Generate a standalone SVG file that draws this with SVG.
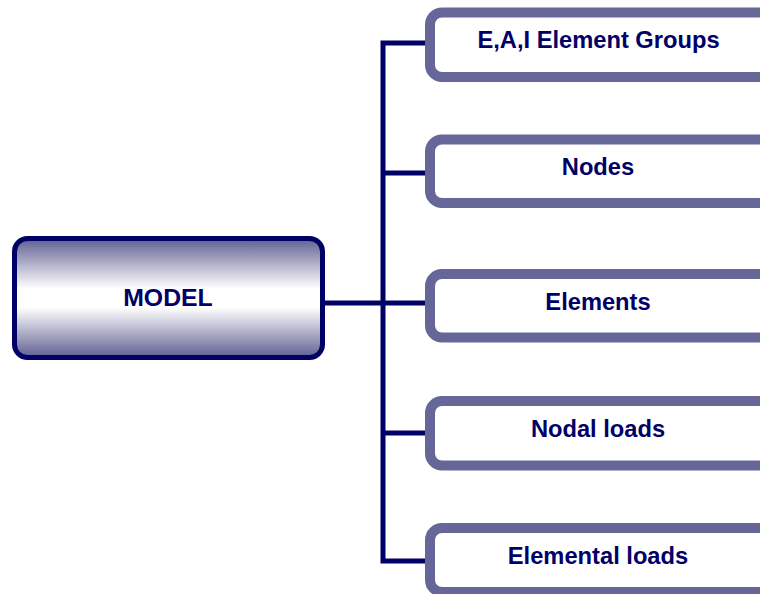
<svg xmlns="http://www.w3.org/2000/svg" width="760" height="594" viewBox="0 0 760 594">
<defs>
<linearGradient id="mg" x1="0" y1="0" x2="0" y2="1">
<stop offset="0" stop-color="#5f5f92"/>
<stop offset="0.42" stop-color="#ffffff"/>
<stop offset="0.58" stop-color="#ffffff"/>
<stop offset="1" stop-color="#5f5f92"/>
</linearGradient>
<style>
.box{fill:#ffffff;stroke:#666699;stroke-width:10}
.lbl{font-family:"Liberation Sans",Arial,sans-serif;font-weight:bold;font-size:23.7px;fill:#000066;text-anchor:middle}
.conn{stroke:#000066;stroke-width:5;fill:none}
</style>
</defs>
<rect width="760" height="594" fill="#ffffff"/>
<g id="connectors">
<line class="conn" x1="325" y1="303" x2="383" y2="303"/>
<path class="conn" d="M425 43 H383 V561 H425"/>
<line class="conn" x1="383" y1="173" x2="425" y2="173"/>
<line class="conn" x1="383" y1="303" x2="425" y2="303"/>
<line class="conn" x1="383" y1="433" x2="425" y2="433"/>
</g>
<g id="model">
<rect x="14.5" y="238.5" width="308" height="119" rx="13" fill="url(#mg)" stroke="#000066" stroke-width="5"/>
<text class="lbl" x="168" y="306" style="font-size:24.8px">MODEL</text>
</g>
<g id="eai">
<rect class="box" x="430" y="12.5" width="360" height="64.5" rx="12"/>
<text class="lbl" x="598.5" y="48">E,A,I Element Groups</text>
</g>
<g id="nodes">
<rect class="box" x="430" y="139.5" width="360" height="63.5" rx="12"/>
<text class="lbl" x="598" y="174.5">Nodes</text>
</g>
<g id="elements">
<rect class="box" x="430" y="274" width="360" height="63.5" rx="12"/>
<text class="lbl" x="598" y="310">Elements</text>
</g>
<g id="nodal-loads">
<rect class="box" x="430" y="401" width="360" height="64.5" rx="12"/>
<text class="lbl" x="598" y="437">Nodal loads</text>
</g>
<g id="elemental-loads">
<rect class="box" x="430" y="528" width="360" height="64" rx="12"/>
<text class="lbl" x="598" y="563.5">Elemental loads</text>
</g>
</svg>
